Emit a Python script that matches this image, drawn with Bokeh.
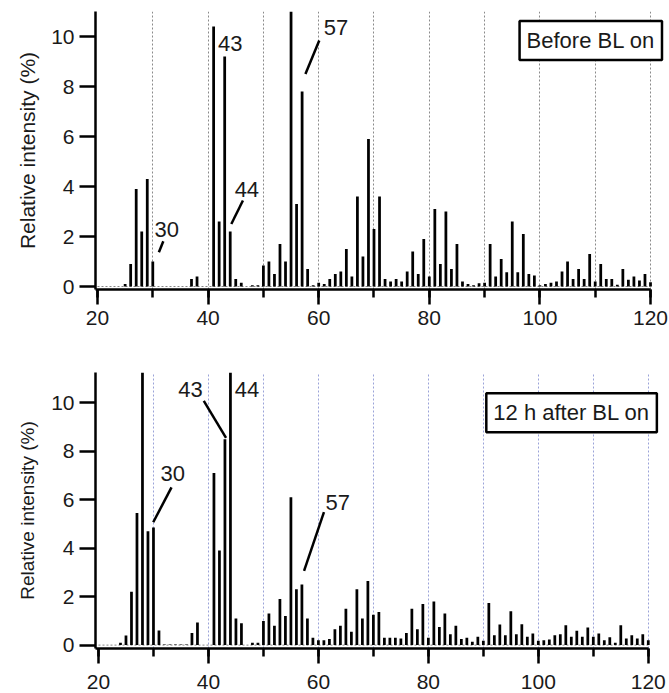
from bokeh.plotting import figure
from bokeh.layouts import column
from bokeh.models import (Range1d, FixedTicker, SingleIntervalTicker, Label, Title,
                          ColumnDataSource)
from bokeh.embed import file_html
from bokeh.resources import INLINE

# ---------------- data ----------------
mz = list(range(20, 121))

before_bl = [
    0, 0, 0, 0, 0, 0.1, 0.9, 3.9, 2.2, 4.3,            # 20-29
    1.0, 0, 0, 0, 0, 0, 0, 0.3, 0.4, 0,                # 30-39
    0, 10.4, 2.6, 9.2, 2.2, 0.3, 0.15, 0, 0.05, 0.05,  # 40-49
    0.84, 1.0, 0.5, 1.7, 1.0, 13.0, 3.3, 7.8, 0.7, 0.05,  # 50-59
    0.15, 0.1, 0.3, 0.5, 0.6, 1.5, 0.4, 3.6, 1.2, 5.9,   # 60-69
    2.3, 3.6, 0.3, 0.2, 0.3, 0.2, 0.6, 1.4, 0.5, 1.9,    # 70-79
    0.4, 3.1, 0.9, 3.0, 0.7, 1.7, 0.2, 0.1, 0.05, 0.13,  # 80-89
    0.15, 1.7, 0.4, 1.1, 0.57, 2.6, 0.57, 2.1, 0.5, 0.44,  # 90-99
    0.05, 0.1, 0.15, 0.2, 0.6, 1.0, 0.3, 0.7, 0.3, 1.3,  # 100-109
    0.2, 0.9, 0.3, 0.3, 0.07, 0.7, 0.27, 0.4, 0.24, 0.5,  # 110-119
    0.17,                                              # 120
]

after_bl = [
    0, 0, 0, 0, 0.1, 0.4, 2.2, 5.45, 13.0, 4.7,          # 20-29
    4.85, 0.6, 0.03, 0.03, 0.03, 0.03, 0.03, 0.5, 0.93, 0,  # 30-39
    0, 7.1, 3.9, 8.5, 13.0, 1.1, 0.9, 0, 0.1, 0.1,       # 40-49
    1.0, 1.3, 0.8, 1.9, 1.2, 6.1, 2.3, 2.5, 1.1, 0.3,    # 50-59
    0.2, 0.2, 0.25, 0.65, 0.8, 1.5, 0.55, 2.3, 1.1, 2.65,  # 60-69
    1.25, 1.37, 0.3, 0.3, 0.3, 0.27, 0.5, 1.5, 0.65, 1.7,  # 70-79
    0.3, 1.8, 0.75, 1.3, 0.45, 0.8, 0.25, 0.3, 0.14, 0.34,  # 80-89
    0.18, 1.74, 0.41, 0.85, 0.41, 1.4, 0.45, 0.86, 0.34, 0.48,  # 90-99
    0.18, 0.2, 0.23, 0.41, 0.45, 0.82, 0.34, 0.59, 0.34, 0.73,  # 100-109
    0.34, 0.48, 0.2, 0.32, 0.1, 0.82, 0.27, 0.41, 0.27, 0.45,  # 110-119
    0.2,                                                 # 120
]

grid_ticks = [30, 40, 50, 60, 70, 80, 90, 100, 110, 120]
y_ticks = [0, 2, 4, 6, 8, 10]
y_title = "Relative intensity (%)"

# peak annotations: (text, x, y) and leader lines (x0, y0, x1, y1)
top_labels = [("30", 30.3, 2.28), ("43", 41.8, 9.74), ("44", 44.8, 3.88), ("57", 60.9, 10.37)]
top_leaders_x0 = [31.1, 44.2, 57.6]
top_leaders_y0 = [1.37, 2.5, 8.5]
top_leaders_x1 = [31.9, 46.3, 60.1]
top_leaders_y1 = [1.81, 3.44, 9.84]

bot_labels = [("30", 31.3, 7.07), ("43", 34.5, 10.53), ("44", 44.8, 10.53), ("57", 61.3, 5.9)]
bot_leaders_x0 = [29.96, 39.15, 57.39]
bot_leaders_y0 = [5.07, 10.08, 3.06]
bot_leaders_x1 = [33.28, 43.2, 61.01]
bot_leaders_y1 = [6.51, 8.55, 5.49]

top_box = ("Before BL on", 109.2, 9.84)
bot_box = ("12 h after BL on", 106.05, 9.59)

FONT = "Liberation Sans"
TXT = "#1a1a1a"


def make_panel(values, height, x_range, y_range, mbl, mbr, mbt, mbb, grid_color,
               labels, lx0, ly0, lx1, ly1, box, title_size, title_offset, title_standoff,
               xlabel_standoff):
    p = figure(width=669, height=height, x_range=Range1d(*x_range),
               y_range=Range1d(*y_range), output_backend="svg", toolbar_location=None,
               min_border_left=mbl, min_border_right=mbr, min_border_top=mbt,
               min_border_bottom=mbb)
    p.outline_line_color = None
    p.background_fill_color = "white"
    p.border_fill_color = "white"
    p.ygrid.grid_line_color = None
    p.xgrid.ticker = FixedTicker(ticks=grid_ticks)
    p.xgrid.grid_line_color = grid_color
    p.xgrid.grid_line_dash = "2 2"
    p.xgrid.grid_line_width = 1

    # dotted baseline across the m/z span
    p.segment(x0=[mz[0]], y0=[0], x1=[mz[-1]], y1=[0], line_color="#888888",
              line_dash="2 2", line_width=1)

    src = ColumnDataSource(dict(x=mz, top=values))
    p.vbar(x="x", top="top", width=0.5, bottom=0, source=src,
           fill_color="black", line_color=None)

    # axes
    p.xaxis.ticker = SingleIntervalTicker(interval=20, num_minor_ticks=2)
    p.xaxis.bounds = (x_range[0], 120)
    p.yaxis.ticker = FixedTicker(ticks=y_ticks)
    for ax in (p.xaxis, p.yaxis):
        ax.axis_line_width = 2.5
        ax.axis_line_color = "black"
        ax.major_tick_line_width = 2.5
        ax.major_tick_line_color = "black"
        ax.major_tick_in = 0
        ax.major_label_text_font = FONT
        ax.major_label_text_font_size = "21px"
        ax.major_label_text_color = TXT
    p.xaxis.major_tick_out = 15
    p.xaxis.minor_tick_out = 8
    p.xaxis.minor_tick_in = 0
    p.xaxis.minor_tick_line_width = 2.5
    p.xaxis.minor_tick_line_color = "black"
    p.xaxis.major_label_standoff = xlabel_standoff
    p.yaxis.major_tick_out = 16
    p.yaxis.minor_tick_line_color = None
    p.yaxis.major_label_standoff = 5

    # y title (left side title, shifted upward like the original)
    p.add_layout(Title(text=y_title, align="center", offset=title_offset,
                       standoff=title_standoff, text_font=FONT, text_font_size=title_size,
                       text_font_style="normal", text_color=TXT), "left")

    # peak labels
    for t, x, y in labels:
        p.add_layout(Label(x=x, y=y, text=t, text_align="left", text_baseline="middle",
                           text_font=FONT, text_font_size="22px", text_color=TXT))
    p.segment(x0=lx0, y0=ly0, x1=lx1, y1=ly1, line_color="black", line_width=2.5)

    # boxed title
    p.add_layout(Label(x=box[1], y=box[2], text=box[0], text_align="center",
                       text_baseline="middle", text_font=FONT, text_font_size="22px",
                       text_color=TXT, border_line_color="black", border_line_width=2.5,
                       background_fill_color="white", padding=7))
    return p


p1 = make_panel(before_bl, 340, (19.64, 122.53), (-0.12, 11.0), 95, 5, 11, 51, "#8a8a8a",
                top_labels, top_leaders_x0, top_leaders_y0, top_leaders_x1, top_leaders_y1,
                top_box, "21px", 18, 20, 6)
p2 = make_panel(after_bl, 353, (19.456, 122.95), (-0.14, 11.25), 93, 5, 32, 45, "#9aa3d8",
                bot_labels, bot_leaders_x0, bot_leaders_y0, bot_leaders_x1, bot_leaders_y1,
                bot_box, "19px", 24, 22, 11)

layout = column(p1, p2)
open("out.html", "w").write(file_html(layout, INLINE))
